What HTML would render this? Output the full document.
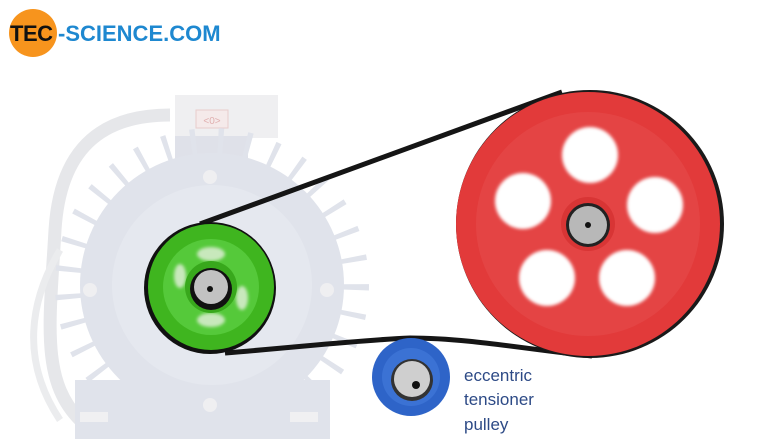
<!DOCTYPE html>
<html><head><style>
html,body{margin:0;padding:0;background:#fff;width:780px;height:439px;overflow:hidden}
</style></head><body>
<svg width="780" height="439" viewBox="0 0 780 439" xmlns="http://www.w3.org/2000/svg">
<defs>
<filter id="bl"><feGaussianBlur stdDeviation="1.5"/></filter>
</defs>
<!-- logo -->
<circle cx="33" cy="33" r="24" fill="#f7941d"/>
<text x="10" y="41" font-family="Liberation Sans, sans-serif" font-size="22" font-weight="bold" fill="#111" letter-spacing="-0.5">TEC</text>
<text x="58" y="41" font-family="Liberation Sans, sans-serif" font-size="22" font-weight="bold" fill="#1e88d0" letter-spacing="0">-SCIENCE.COM</text>
<!-- cable -->
<path d="M170 115 C100 115 60 150 55 230 C50 320 40 380 80 420" stroke="#e6e7ea" stroke-width="13" fill="none"/>
<path d="M60 250 C30 300 20 360 60 420" stroke="#ebecee" stroke-width="7" fill="none"/>
<!-- motor -->
<rect x="175" y="95" width="103" height="43" fill="#efeff1"/>
<rect x="196" y="110" width="32" height="18" fill="#f5eaea" stroke="#e8cccc"/>
<text x="212" y="124" font-family="Liberation Sans, sans-serif" font-size="10" fill="#e0b0b0" text-anchor="middle">&lt;0&gt;</text>
<rect x="175" y="136" width="73" height="30" fill="#dfe1e9"/>
<g fill="#e0e3eb">
<circle cx="212" cy="285" r="142" stroke="#e0e3eb" stroke-width="30" stroke-dasharray="5 22" fill="none"/>
<circle cx="212" cy="285" r="132"/>
<rect x="75" y="380" width="255" height="59"/>
</g>
<circle cx="212" cy="285" r="100" fill="#e5e8ef"/>
<circle cx="210" cy="177" r="7" fill="#efeff1"/>
<circle cx="90" cy="290" r="7" fill="#efeff1"/>
<circle cx="327" cy="290" r="7" fill="#efeff1"/>
<circle cx="210" cy="405" r="7" fill="#efeff1"/>
<rect x="80" y="412" width="28" height="10" fill="#f0f0f2"/>
<rect x="290" y="412" width="28" height="10" fill="#f0f0f2"/>
<!-- belt -->
<path d="M200 224 L562 92" stroke="#151515" stroke-width="5" fill="none"/>
<path d="M225 353 C300 347 360 340 410 338 C470 338 530 350 592 356" stroke="#151515" stroke-width="5" fill="none"/>
<!-- red pulley -->
<circle cx="590" cy="224" r="134" fill="#1a1a1a"/>
<circle cx="588" cy="224" r="132" fill="#e23a3a"/>
<circle cx="588" cy="224" r="112" fill="#e44444"/>
<g fill="#fff" filter="url(#bl)">
<circle cx="590" cy="155" r="28"/>
<circle cx="523" cy="201" r="28"/>
<circle cx="655" cy="205" r="28"/>
<circle cx="547" cy="278" r="28"/>
<circle cx="627" cy="278" r="28"/>
</g>
<circle cx="588" cy="224" r="27" fill="#d83535"/>
<circle cx="588" cy="225" r="22" fill="#222"/>
<circle cx="588" cy="225" r="19" fill="#b8b8b8"/>
<circle cx="588" cy="225" r="3" fill="#111"/>
<!-- green pulley -->
<circle cx="210" cy="288" r="66" fill="#111"/>
<circle cx="211" cy="287" r="63" fill="#3fb51f"/>
<circle cx="211" cy="287" r="48" fill="#55c93a"/>
<g fill="#c8e8bc" filter="url(#bl)">
<ellipse cx="211" cy="254" rx="14" ry="7"/>
<ellipse cx="211" cy="320" rx="14" ry="7"/>
<ellipse cx="180" cy="276" rx="6" ry="12"/>
<ellipse cx="242" cy="298" rx="6" ry="12"/>
</g>
<circle cx="211" cy="287" r="26" fill="#38a81c"/>
<circle cx="211" cy="289" r="21" fill="#111"/>
<circle cx="211" cy="287" r="17" fill="#c2c2c2"/>
<circle cx="210" cy="289" r="3" fill="#111"/>
<!-- blue pulley -->
<circle cx="411" cy="377" r="39" fill="#2e64c8"/>
<circle cx="411" cy="377" r="29" fill="#3b72d4"/>
<circle cx="412" cy="380" r="21" fill="#333"/>
<circle cx="412" cy="379" r="18" fill="#cfcfcf"/>
<circle cx="416" cy="385" r="4" fill="#111"/>
<!-- label -->
<g font-family="Liberation Sans, sans-serif" font-size="17" fill="#2d4a86">
<text x="464" y="381">eccentric</text>
<text x="464" y="405">tensioner</text>
<text x="464" y="430">pulley</text>
</g>
</svg>
</body></html>
